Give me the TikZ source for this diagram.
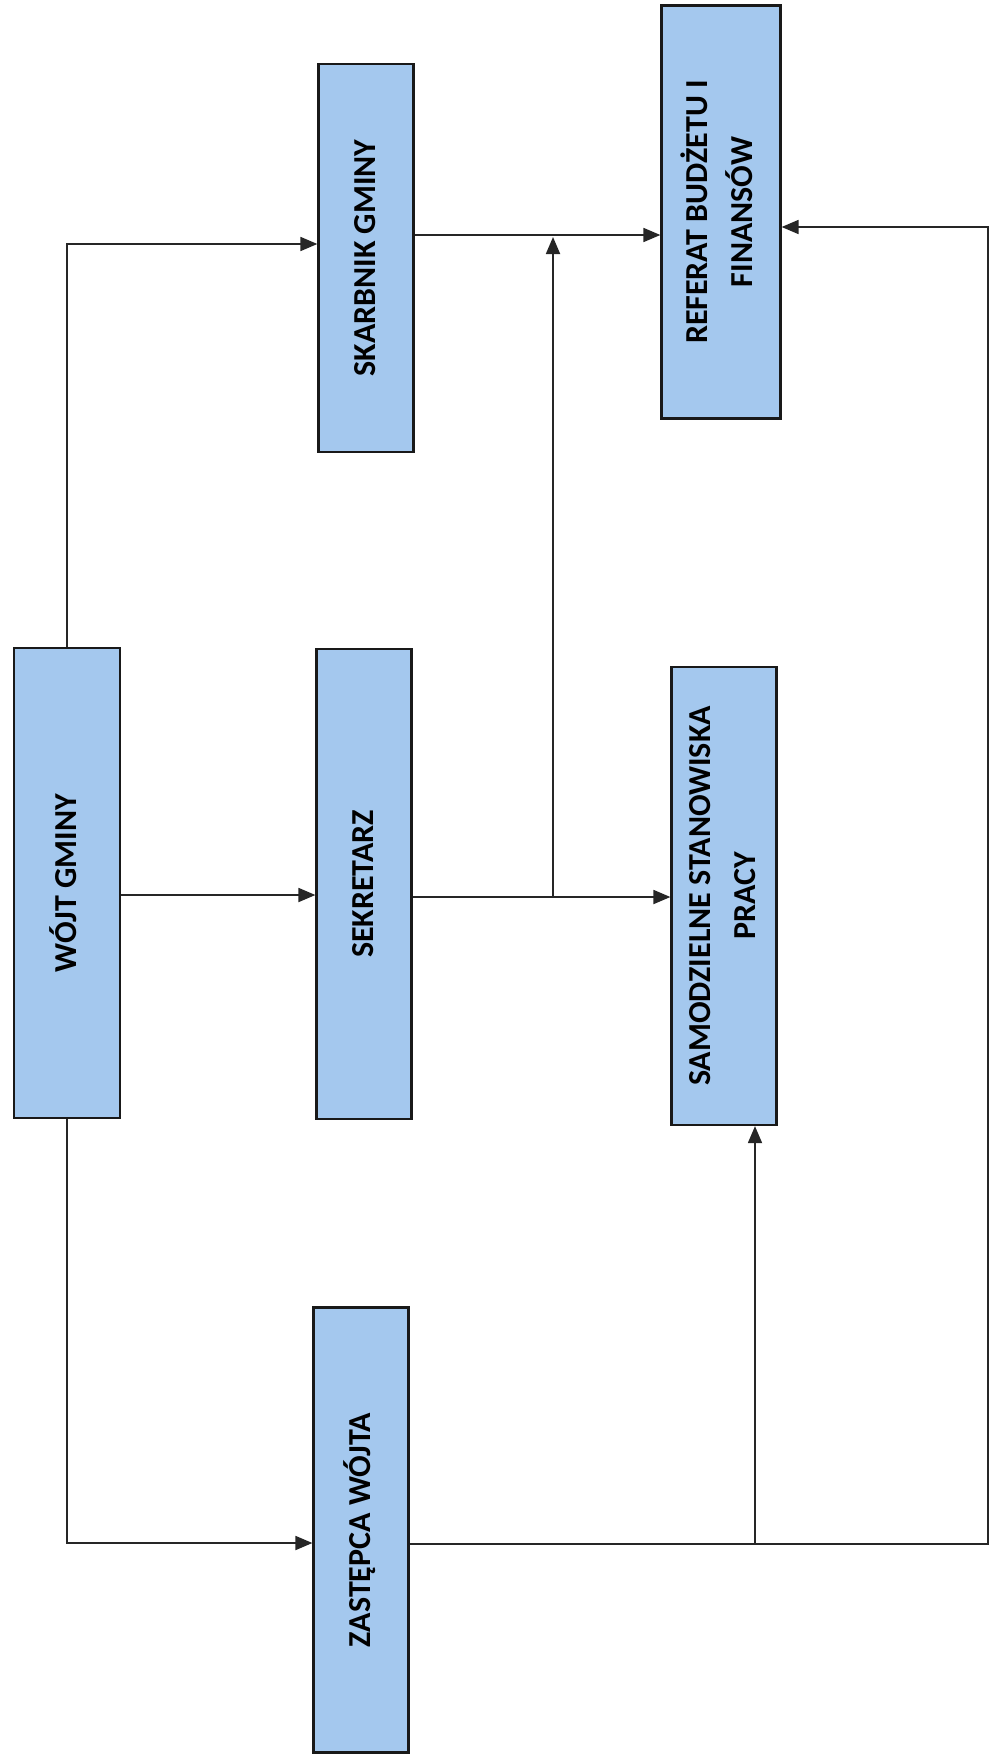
\documentclass[tikz,border=0pt]{standalone}
\usepackage{fontspec}
\setmainfont{Carlito}
\usepackage{graphicx}
\usepackage{tikz}
\usetikzlibrary{arrows.meta,calc,positioning}
\definecolor{boxblue}{HTML}{A4C8EE}
\newcommand{\vlabel}[1]{\rotatebox{90}{\begin{tabular}{@{}c@{}}#1\end{tabular}}}

\begin{document}
\begin{tikzpicture}[x=1pt,y=-1pt]

\tikzset{unit/.style = {shape=rectangle,draw=black!90,line width=2.2pt,fill=boxblue,inner sep=0pt,font=\fontsize{32}{45}\selectfont\bfseries}}
\tikzset{edge/.style = {-{Triangle[length=17pt,width=14pt]},line width=1.8pt,black!85}}

\useasboundingbox (0,0) rectangle (999,1758);

% units
\node[unit,minimum width=106,minimum height=470] (wojt) at (67,883) {\vlabel{WÓJT GMINY}};
\node[unit,minimum width=95,minimum height=388] (skarb) at (366,258) {\vlabel{SKARBNIK GMINY}};
\node[unit,minimum width=95,minimum height=470] (sekr) at (364,884) {\vlabel{SEKRETARZ}};
\node[unit,minimum width=95,minimum height=445] (zast) at (361,1530) {\vlabel{ZASTĘPCA WÓJTA}};
\node[unit,minimum width=119,minimum height=413] (referat) at (721,212) {\vlabel{REFERAT BUDŻETU I\\FINANSÓW}};
\node[unit,minimum width=105,minimum height=458] (samodz) at (724,896) {\vlabel{SAMODZIELNE STANOWISKA\\PRACY}};

% junctions
\coordinate (j1) at (553,897);
\coordinate (j2) at (553,237);
\coordinate (j3) at (755,1544);
\coordinate (r1) at (988,1544);

%edges
\draw[edge] (wojt.north) |- (skarb.west |- 0,244);
\draw[edge] (wojt.east |- 0,895) -- (sekr.west |- 0,895);
\draw[edge] (wojt.south) |- (zast.west |- 0,1543);
\draw[edge] (skarb.east |- 0,235) -- (referat.west |- 0,235);
\draw[edge] (sekr.east |- j1) -- (samodz.west |- j1);
\draw[edge] (j1) -- (j2);
\draw[edge] (zast.east |- j3) -- (r1) |- (referat.east |- 0,227);
\draw[edge] (j3) -- (samodz.south -| j3);
\end{tikzpicture}
\end{document}
